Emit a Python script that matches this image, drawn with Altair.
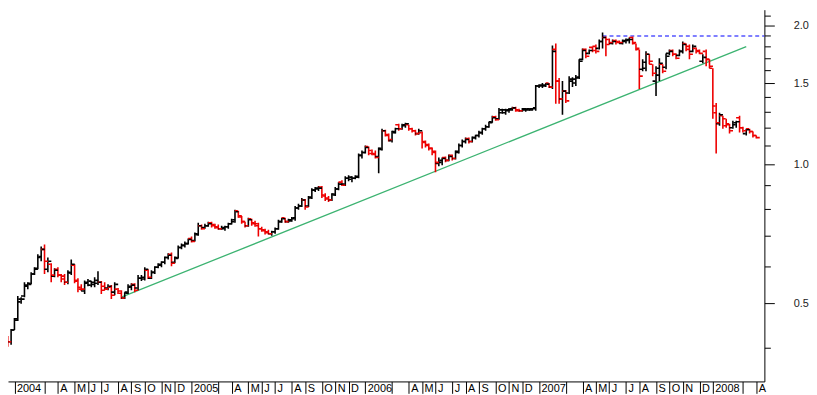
import altair as alt
import numpy as np
import pandas as pd

# ---- weekly OHLC values ----
start_date = "2003-12-05"
n_weeks = 227

opens = [
    .424, .426, .418, .412, .437, .459, .503, .518, .544, .552,
    .578, .595, .628, .654, .592, .607, .572, .592, .575, .572,
    .555, .583, .604, .558, .541, .531, .552, .547, .549, .552,
    .555, .544, .539, .541, .528, .536, .531, .513, .528, .541,
    .549, .539, .566, .564, .589, .566, .583, .598, .604, .613,
    .628, .638, .613, .628, .660, .667, .673, .690, .683, .707,
    .736, .729, .736, .747, .740, .732, .725, .725, .732, .743,
    .751, .793, .769, .751, .736, .762, .747, .743, .725, .721,
    .714, .707, .714, .725, .751, .766, .751, .754, .762, .804,
    .812, .837, .812, .849, .879, .884, .893, .858, .845, .837,
    .862, .884, .915, .906, .933, .928, .933, .938, 1.046, 1.061,
    1.093, 1.072, 1.056, 1.040, 1.083, 1.183, 1.160, 1.126, 1.178, 1.219,
    1.195, 1.213, 1.219, 1.195, 1.183, 1.166, 1.172, 1.121, 1.104, 1.083,
    1.067, 1.005, 1.010, 1.035, 1.020, 1.046, 1.030, 1.067, 1.099, 1.121,
    1.138, 1.121, 1.143, 1.155, 1.172, 1.195, 1.207, 1.237, 1.268, 1.256,
    1.294, 1.294, 1.307, 1.313, 1.326, 1.313, 1.307, 1.313, 1.313, 1.313,
    1.320, 1.479, 1.479, 1.479, 1.501, 1.471, 1.776, 1.516, 1.387, 1.442,
    1.428, 1.516, 1.501, 1.539, 1.690, 1.776, 1.741, 1.794, 1.803, 1.785,
    1.848, 1.885, 1.866, 1.829, 1.857, 1.848, 1.829, 1.848, 1.857, 1.885,
    1.829, 1.776, 1.609, 1.617, 1.733, 1.649, 1.516, 1.562, 1.649, 1.625,
    1.741, 1.767, 1.733, 1.724, 1.759, 1.829, 1.803, 1.759, 1.785, 1.767,
    1.674, 1.759, 1.690, 1.617, 1.339, 1.225, 1.275, 1.256, 1.225, 1.201,
    1.219, 1.262, 1.201, 1.166, 1.195, 1.178, 1.155,
]
highs = [
    .431, .429, .424, .439, .464, .518, .515, .555, .555, .583,
    .598, .638, .663, .670, .628, .610, .595, .598, .578, .578,
    .589, .622, .607, .566, .549, .560, .564, .558, .569, .586,
    .558, .555, .549, .547, .555, .539, .533, .528, .549, .552,
    .552, .575, .575, .598, .592, .589, .601, .610, .616, .631,
    .641, .644, .631, .667, .673, .680, .690, .697, .711, .747,
    .740, .743, .751, .751, .743, .740, .736, .736, .747, .762,
    .797, .793, .773, .751, .766, .762, .754, .747, .732, .725,
    .721, .718, .729, .758, .766, .766, .762, .769, .812, .821,
    .845, .841, .854, .888, .893, .897, .897, .866, .854, .866,
    .893, .915, .924, .942, .947, .942, .947, 1.056, 1.072, 1.099,
    1.093, 1.077, 1.072, 1.088, 1.195, 1.189, 1.166, 1.183, 1.201, 1.225,
    1.225, 1.231, 1.219, 1.201, 1.189, 1.195, 1.178, 1.126, 1.110, 1.088,
    1.072, 1.035, 1.035, 1.040, 1.051, 1.051, 1.072, 1.110, 1.132, 1.143,
    1.143, 1.149, 1.160, 1.183, 1.201, 1.219, 1.237, 1.275, 1.275, 1.326,
    1.320, 1.320, 1.326, 1.333, 1.333, 1.320, 1.326, 1.326, 1.326, 1.326,
    1.486, 1.493, 1.501, 1.501, 1.501, 1.811, 1.829, 1.539, 1.516, 1.450,
    1.554, 1.546, 1.562, 1.690, 1.785, 1.785, 1.776, 1.803, 1.820, 1.866,
    1.932, 1.894, 1.875, 1.866, 1.866, 1.857, 1.866, 1.875, 1.885, 1.894,
    1.829, 1.776, 1.690, 1.759, 1.733, 1.649, 1.633, 1.699, 1.649, 1.741,
    1.776, 1.776, 1.741, 1.776, 1.848, 1.829, 1.820, 1.820, 1.794, 1.776,
    1.733, 1.776, 1.690, 1.617, 1.359, 1.294, 1.275, 1.256, 1.225, 1.243,
    1.243, 1.275, 1.207, 1.195, 1.195, 1.178, 1.155,
]
lows = [
    .418, .408, .402, .406, .437, .457, .498, .515, .536, .549,
    .575, .592, .616, .578, .583, .555, .569, .569, .555, .547,
    .549, .575, .552, .528, .531, .523, .544, .541, .541, .547,
    .523, .533, .533, .510, .520, .523, .510, .510, .523, .533,
    .528, .533, .558, .560, .564, .564, .578, .595, .598, .607,
    .622, .601, .610, .625, .654, .660, .670, .677, .680, .700,
    .721, .725, .732, .729, .725, .721, .721, .718, .725, .740,
    .747, .766, .743, .729, .732, .736, .732, .697, .714, .704,
    .704, .700, .707, .721, .747, .747, .747, .751, .754, .797,
    .808, .797, .808, .841, .871, .875, .845, .833, .829, .833,
    .854, .879, .897, .897, .919, .915, .928, .933, 1.030, 1.056,
    1.046, 1.046, 1.030, .956, 1.072, 1.149, 1.121, 1.115, 1.166, 1.183,
    1.189, 1.201, 1.183, 1.172, 1.155, 1.160, 1.083, 1.088, 1.072, 1.046,
    .961, .990, .995, 1.010, 1.015, 1.020, 1.025, 1.056, 1.088, 1.110,
    1.110, 1.115, 1.132, 1.143, 1.160, 1.183, 1.201, 1.231, 1.243, 1.250,
    1.287, 1.281, 1.294, 1.307, 1.300, 1.300, 1.300, 1.300, 1.307, 1.307,
    1.307, 1.464, 1.464, 1.471, 1.464, 1.457, 1.353, 1.353, 1.281, 1.359,
    1.421, 1.471, 1.479, 1.531, 1.682, 1.699, 1.733, 1.750, 1.741, 1.776,
    1.785, 1.716, 1.820, 1.820, 1.820, 1.829, 1.820, 1.829, 1.829, 1.820,
    1.767, 1.457, 1.593, 1.593, 1.649, 1.554, 1.407, 1.516, 1.577, 1.609,
    1.724, 1.716, 1.690, 1.716, 1.741, 1.759, 1.690, 1.750, 1.741, 1.733,
    1.657, 1.633, 1.617, 1.256, 1.056, 1.213, 1.195, 1.201, 1.166, 1.195,
    1.201, 1.172, 1.172, 1.155, 1.166, 1.143, 1.138,
]
closes = [
    .426, .414, .412, .437, .462, .510, .510, .547, .549, .578,
    .592, .631, .654, .616, .616, .575, .589, .575, .564, .555,
    .581, .607, .560, .536, .536, .555, .558, .555, .560, .555,
    .533, .536, .544, .520, .549, .525, .513, .525, .544, .547,
    .533, .566, .569, .592, .569, .583, .598, .607, .613, .628,
    .635, .610, .625, .660, .667, .673, .687, .680, .704, .736,
    .725, .736, .743, .736, .729, .725, .729, .732, .743, .758,
    .789, .773, .751, .736, .758, .743, .736, .725, .718, .711,
    .707, .714, .725, .751, .762, .751, .758, .766, .804, .812,
    .837, .808, .845, .879, .888, .888, .854, .841, .837, .858,
    .884, .906, .901, .933, .938, .933, .942, 1.046, 1.061, 1.088,
    1.056, 1.051, 1.035, 1.077, 1.183, 1.155, 1.132, 1.172, 1.195, 1.195,
    1.219, 1.225, 1.195, 1.183, 1.166, 1.183, 1.115, 1.099, 1.083, 1.061,
    1.010, 1.020, 1.030, 1.020, 1.040, 1.030, 1.061, 1.099, 1.121, 1.132,
    1.121, 1.143, 1.155, 1.172, 1.195, 1.207, 1.231, 1.262, 1.250, 1.313,
    1.313, 1.313, 1.320, 1.326, 1.307, 1.307, 1.320, 1.320, 1.320, 1.326,
    1.479, 1.486, 1.486, 1.493, 1.471, 1.759, 1.516, 1.387, 1.442, 1.373,
    1.531, 1.531, 1.546, 1.674, 1.767, 1.716, 1.767, 1.767, 1.759, 1.848,
    1.885, 1.820, 1.839, 1.848, 1.839, 1.839, 1.857, 1.866, 1.866, 1.839,
    1.785, 1.554, 1.665, 1.733, 1.674, 1.577, 1.617, 1.657, 1.593, 1.716,
    1.759, 1.733, 1.699, 1.759, 1.820, 1.776, 1.733, 1.803, 1.759, 1.741,
    1.707, 1.690, 1.633, 1.294, 1.231, 1.281, 1.213, 1.219, 1.183, 1.231,
    1.237, 1.201, 1.183, 1.189, 1.178, 1.155, 1.143,
]

# trend line (green) and resistance line (blue dashed)
trend_dates = ["2004-08-13", "2008-03-14"]
trend_values = [0.515, 1.80]
resist_dates = ["2007-05-18", "2008-04-21"]
resist_values = [1.899, 1.899]

x_domain = ["2003-12-19T12:00:00", "2008-04-21T00:00:00"]
y_domain = [0.338, 2.166]
y_ticks = [0.4, 0.5, 0.6, 0.7, 0.8, 0.9, 1.0, 1.1, 1.2, 1.3, 1.4, 1.5,
           1.6, 1.7, 1.8, 1.9, 2.0, 2.1]
y_labels = [0.5, 1.0, 1.5, 2.0]

# ---- tables ----
dates = pd.date_range(start_date, periods=n_weeks, freq="7D")
df = pd.DataFrame({
    "date": dates.strftime("%Y-%m-%d"),
    "open": opens, "high": highs, "low": lows, "close": closes,
})
df["dir"] = np.where(df["close"] < df["open"], "down", "up")

trend = pd.DataFrame({"date": trend_dates, "value": trend_values})
resist = pd.DataFrame({"date": resist_dates, "value": resist_values})

dom_ms = [int(pd.Timestamp(d).value // 10**6) for d in x_domain]
s = pd.Series(dates)
firsts = s.groupby([s.dt.year, s.dt.month]).min()
tick_ms = [int(t.value // 10**6) for t in firsts if t.month != 2]
tick_ms = [t for t in tick_ms if dom_ms[0] <= t <= dom_ms[1]]

FONT = "Liberation Sans"
label_test = "indexof(" + str(y_labels) + ", datum.value) >= 0"

x_axis = alt.Axis(
    values=tick_ms, title=None, grid=False,
    labelExpr=("utcmonth(datum.value) == 0 ? utcFormat(datum.value, '%Y') : "
               "utcmonth(datum.value) == 2 ? '' : "
               "['J','F','M','A','M','J','J','A','S','O','N','D'][utcmonth(datum.value)]"),
    tickSize=12, tickColor="black", domainColor="black",
    labelAlign="left", labelBaseline="top", labelPadding=-11, labelOffset=2,
    labelFont=FONT, labelFontSize=11, labelColor="black",
    labelOverlap=False, labelFlush=False,
)
y_axis = alt.Axis(
    orient="right", values=y_ticks, title=None, grid=False,
    labelExpr=label_test + " ? format(datum.value, '.1f') : ''",
    tickSize={"condition": {"test": label_test, "value": 10}, "value": 6},
    tickColor="black", domainColor="black",
    labelPadding=19, labelFont=FONT, labelFontSize=11, labelColor="#222222",
    labelOverlap=False,
)

xs = alt.Scale(type="utc", domain=dom_ms)
ys = alt.Scale(type="log", domain=y_domain, nice=False, zero=False)

X = alt.X("date:T", scale=xs, axis=x_axis)
color = alt.Color("dir:N", scale=alt.Scale(domain=["up", "down"],
                                           range=["#000000", "#EE0000"]),
                  legend=None)

base = alt.Chart(df)
bars = base.mark_rule(strokeWidth=1.6, clip=True).encode(
    x=X, y=alt.Y("low:Q", scale=ys, axis=y_axis), y2="high:Q", color=color)
open_t = base.mark_tick(orient="horizontal", size=3, thickness=1.6,
                        xOffset=-2, opacity=1, clip=True).encode(
    x=X, y=alt.Y("open:Q", scale=ys, axis=y_axis), color=color)
close_t = base.mark_tick(orient="horizontal", size=3, thickness=1.6,
                         xOffset=2, opacity=1, clip=True).encode(
    x=X, y=alt.Y("close:Q", scale=ys, axis=y_axis), color=color)

trend_line = alt.Chart(trend).mark_line(
    color="#3CB371", stroke="#3CB371", strokeWidth=1.3).encode(
    x=X, y=alt.Y("value:Q", scale=ys, axis=y_axis))
resist_line = alt.Chart(resist).mark_line(
    color="#0000FF", stroke="#0000FF", strokeWidth=1.2, strokeDash=[4, 3]).encode(
    x=X, y=alt.Y("value:Q", scale=ys, axis=y_axis))

chart = alt.layer(trend_line, resist_line, bars, open_t, close_t).properties(
    width=763, height=375,
    padding={"left": 0, "top": 0, "right": 0, "bottom": 0},
    background="white",
).configure_view(stroke=None)

chart.save("out.html", embed_options={"renderer": "svg", "actions": False})
